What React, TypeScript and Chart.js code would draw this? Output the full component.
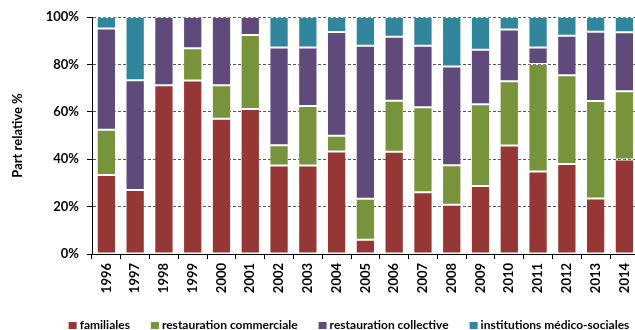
import React, { useEffect, useRef } from "react";
import { Chart, registerables } from "chart.js";

Chart.register(...registerables);

// Années
const years = [
  "1996", "1997", "1998", "1999", "2000", "2001", "2002", "2003", "2004", "2005",
  "2006", "2007", "2008", "2009", "2010", "2011", "2012", "2013", "2014",
];

// Part relative (%) de chaque type de foyer par année
const familiales = [33.3, 27.0, 71.2, 73.2, 57.1, 61.2, 37.3, 37.3, 43.2, 6.0, 43.1, 26.1, 20.8, 28.7, 45.8, 34.8, 38.0, 23.4, 39.9];
const restaurationCommerciale = [19.1, 0, 0, 13.6, 14.1, 31.2, 8.6, 25.1, 6.7, 17.3, 21.6, 35.8, 16.7, 34.5, 27.1, 45.4, 37.4, 41.2, 28.8];
const restaurationCollective = [42.7, 46.3, 28.8, 13.2, 28.8, 7.6, 41.2, 24.7, 43.8, 64.6, 27.0, 26.0, 41.6, 23.0, 21.8, 6.9, 16.7, 29.2, 24.9];
const institutionsMedicoSociales = [4.9, 26.7, 0, 0, 0, 0, 12.9, 12.9, 6.3, 12.1, 8.3, 12.1, 20.9, 13.8, 5.3, 12.9, 7.9, 6.2, 6.4];

const seriesLabels = ["familiales", "restauration commerciale", "restauration collective", "institutions médico-sociales"];
const seriesColors = ["#953735", "#77933C", "#604A7B", "#31859C"];

const yTicks = [0, 20, 40, 60, 80, 100];

const FONT = "Lato, 'Open Sans', sans-serif";

// Légende dessinée sous le graphique
const bottomLegend = {
  id: "bottomLegend",
  afterDraw(chart: any) {
    const ctx: CanvasRenderingContext2D = chart.ctx;
    ctx.save();
    ctx.font = `bold 12px ${FONT}`;
    ctx.textBaseline = "alphabetic";
    ctx.textAlign = "left";
    const boxW = 8;
    const boxH = 7;
    const textGap = 3;
    const itemGap = 21;
    const items = chart.data.datasets.map((ds: any) => ({
      label: ds.label as string,
      color: ds.backgroundColor as string,
      w: ctx.measureText(ds.label).width,
    }));
    const total =
      items.reduce((s: number, it: any) => s + boxW + textGap + it.w, 0) + itemGap * (items.length - 1);
    let x = 349 - total / 2;
    const baseline = 329;
    for (const it of items) {
      ctx.fillStyle = it.color;
      ctx.fillRect(x, baseline - boxH, boxW, boxH);
      x += boxW + textGap;
      ctx.fillStyle = "#000";
      ctx.fillText(it.label, x, baseline);
      x += it.w + itemGap;
    }
    ctx.restore();
  },
};

export default function App() {
  const canvasRef = useRef<HTMLCanvasElement | null>(null);

  useEffect(() => {
    const canvas = canvasRef.current;
    if (!canvas) return;
    const series = [familiales, restaurationCommerciale, restaurationCollective, institutionsMedicoSociales];
    const chart = new Chart(canvas, {
      type: "bar",
      data: {
        labels: years,
        datasets: series.map((data, i) => ({
          label: seriesLabels[i],
          data,
          backgroundColor: seriesColors[i],
          borderColor: "rgba(255,255,255,0.25)",
          borderWidth: 1,
          borderSkipped: false,
          categoryPercentage: 1,
          barPercentage: 0.67,
        })),
      },
      options: {
        responsive: false,
        animation: false,
        devicePixelRatio: 1,
        layout: { padding: { top: 17, left: 0, right: 0, bottom: 0 } },
        plugins: {
          legend: { display: false },
          tooltip: { enabled: false },
        },
        scales: {
          x: {
            stacked: true,
            offset: true,
            grid: {
              offset: true,
              drawOnChartArea: false,
              drawTicks: true,
              tickLength: 5,
              tickColor: "#000",
            },
            border: { display: true, color: "#000", width: 1 },
            ticks: {
              autoSkip: false,
              maxRotation: 90,
              minRotation: 90,
              padding: 4,
              color: "#000",
              font: { family: FONT, size: 13, weight: "bold" },
            },
            afterFit: (scale: any) => {
              scale.height = 76;
            },
          },
          y: {
            stacked: true,
            min: 0,
            max: 100,
            afterBuildTicks: (scale: any) => {
              scale.ticks = yTicks.map((v) => ({ value: v }));
            },
            ticks: {
              padding: 8,
              color: "#000",
              font: { family: FONT, size: 13, weight: "bold" },
              callback: (v: any) => `${v}%`,
            },
            grid: {
              color: "#555555",
              lineWidth: 1,
              tickLength: 5,
              tickColor: "#000",
            },
            border: { display: true, color: "#000", width: 1, dash: [3, 2] },
            title: {
              display: true,
              text: "Part relative %",
              color: "#000",
              font: { family: FONT, size: 13, weight: "bold" },
              padding: { top: 10, bottom: 0 },
            },
            afterFit: (scale: any) => {
              scale.width = 92;
            },
          },
        },
      },
      plugins: [bottomLegend],
    });
    return () => chart.destroy();
  }, []);

  return (
    <div
      style={{
        position: "fixed",
        left: 0,
        top: 0,
        width: 635,
        height: 330,
        overflow: "hidden",
        background: "#fff",
      }}
    >
      <canvas ref={canvasRef} width={644} height={330} style={{ display: "block", width: 644, height: 330 }} />
    </div>
  );
}
